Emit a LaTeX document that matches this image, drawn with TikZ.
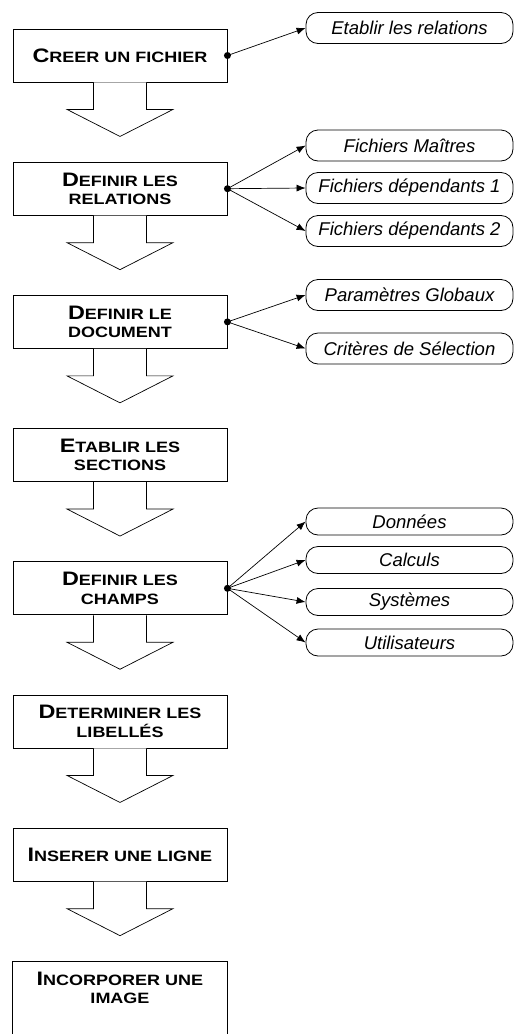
\documentclass[tikz,border=0pt]{standalone}
\usepackage{fontspec}
\usetikzlibrary{arrows.meta,calc}
\newfontfamily\boxfont{Liberation Sans Bold}[FakeStretch=1.2]
\newfontfamily\pillfont{Liberation Sans Italic}
\newcommand\BigL[1]{{\fontsize{19.5}{19}\selectfont #1}}
\tikzset{
  stepbox/.style={draw, line width=0.9pt, fill=white, minimum width=214pt, minimum height=53pt,
    inner sep=0pt, align=center, font=\boxfont\fontsize{15}{18.5}\selectfont},
  openbox/.style={stepbox, draw=none},
  pill/.style={draw, line width=0.8pt, rounded corners=12pt, minimum width=207pt, minimum height=31pt,
    inner sep=0pt, font=\pillfont\fontsize{18.5}{20}\selectfont},
  spill/.style={pill, minimum height=27pt},
  link/.style={line width=0.7pt, -{Latex[length=9pt,width=7pt]}},
  dot/.style={circle, fill=black, inner sep=0pt, minimum size=7pt},
  blockarrow/.style={draw, line width=0.7pt, fill=white}
}
\newcommand\stepdown[1]{%
  \draw[blockarrow] ($(#1.south)+(-26.5,0)$) -- ++(0,27) -- ++(-26.5,0) -- ($(#1.south)+(0,54)$)
    -- ($(#1.south)+(53,27)$) -- ++(-26.5,0) -- ($(#1.south)+(26.5,0)$);}
\begin{document}
\begin{tikzpicture}[x=1pt,y=-1pt]
\useasboundingbox (0,0) rectangle (515,1034);
\clip (0,0) rectangle (515,1034);
% step boxes
\node[stepbox] (b1) at (120,55.5) {\BigL{C}REER UN FICHIER};
\node[stepbox] (b2) at (120,188.7) {\BigL{D}EFINIR LES\\RELATIONS};
\node[stepbox] (b3) at (120,321.9) {\BigL{D}EFINIR LE\\DOCUMENT};
\node[stepbox] (b4) at (120,455.1) {\BigL{E}TABLIR LES\\SECTIONS};
\node[stepbox] (b5) at (120,588.3) {\BigL{D}EFINIR LES\\CHAMPS};
\node[stepbox] (b6) at (120,721.5) {\BigL{D}ETERMINER LES\\LIBELLÉS};
\node[stepbox] (b7) at (120,854.7) {\BigL{I}NSERER UNE LIGNE};
\node[openbox] (b8) at (120,987.9) {\BigL{I}NCORPORER UNE\\IMAGE};
\draw[line width=0.9pt] ($(b8.south west)+(0,40)$) -- (b8.north west) -- (b8.north east) -- ($(b8.south east)+(0,40)$);
% block arrows
\stepdown{b1}\stepdown{b2}\stepdown{b3}\stepdown{b4}\stepdown{b5}\stepdown{b6}\stepdown{b7}
% side items
\node[pill] (p1) at (409.5,28) {Etablir les relations};
\node[pill] (p2) at (409.5,145.5) {Fichiers Maîtres};
\node[pill] (p3) at (409.5,188) {Fichiers dépendants 1};
\node[pill] (p4) at (409.5,231) {Fichiers dépendants 2};
\node[pill] (p5) at (409.5,295) {Paramètres Globaux};
\node[pill] (p6) at (409.5,348.5) {Critères de Sélection};
\node[spill] (p7) at (409.5,521.5) {Données};
\node[spill] (p8) at (409.5,560) {Calculs};
\node[spill] (p9) at (409.5,602) {Systèmes};
\node[spill] (p10) at (409.5,642.5) {Utilisateurs};
% connectors
\node[dot] (d1) at (b1.east) {};
\node[dot] (d2) at (b2.east) {};
\node[dot] (d3) at (b3.east) {};
\node[dot] (d5) at (b5.east) {};
\draw[link] (d1.center) -- (p1.west);
\draw[link] (d2.center) -- (p2.west);
\draw[link] (d2.center) -- (p3.west);
\draw[link] (d2.center) -- (p4.west);
\draw[link] (d3.center) -- (p5.west);
\draw[link] (d3.center) -- (p6.west);
\draw[link] (d5.center) -- (p7.west);
\draw[link] (d5.center) -- (p8.west);
\draw[link] (d5.center) -- (p9.west);
\draw[link] (d5.center) -- (p10.west);
\end{tikzpicture}
\end{document}
